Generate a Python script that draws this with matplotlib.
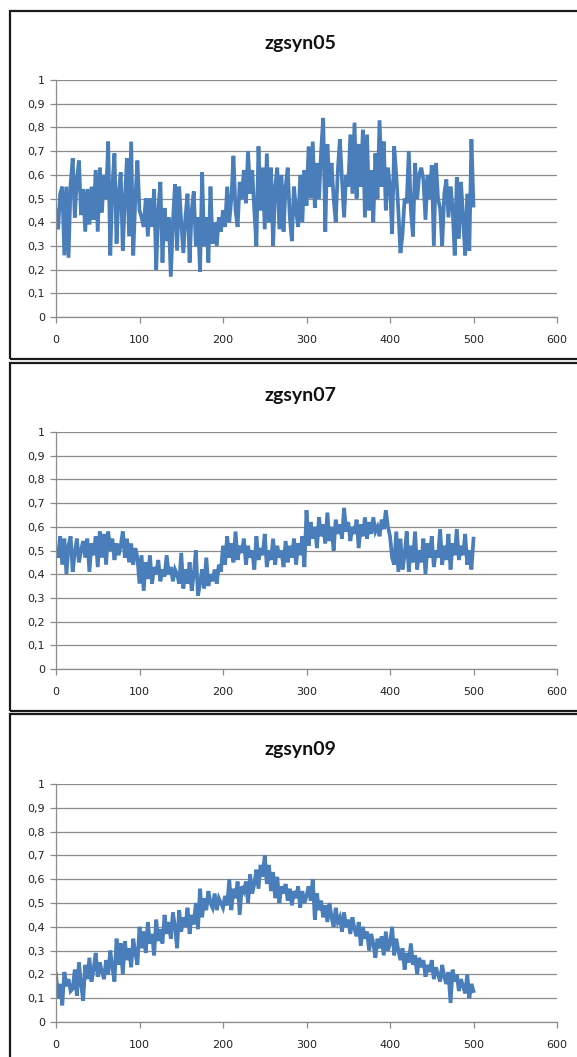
import numpy as np
import matplotlib.pyplot as plt
from matplotlib.patches import Rectangle

# ---- data (one value every 2.5 x units) ----
titles = ['zgsyn05', 'zgsyn07', 'zgsyn09']

zgsyn05 = [
    0.45, 0.37, 0.52, 0.55, 0.26, 0.55, 0.25, 0.56, 0.67, 0.42,
    0.58, 0.66, 0.43, 0.54, 0.36, 0.54, 0.39, 0.55, 0.41, 0.62,
    0.36, 0.63, 0.44, 0.60, 0.50, 0.74, 0.26, 0.55, 0.69, 0.31,
    0.52, 0.61, 0.28, 0.50, 0.67, 0.34, 0.74, 0.26, 0.50, 0.66,
    0.45, 0.42, 0.38, 0.50, 0.34, 0.50, 0.38, 0.54, 0.20, 0.45,
    0.57, 0.23, 0.46, 0.32, 0.42, 0.17, 0.40, 0.56, 0.28, 0.55,
    0.40, 0.27, 0.42, 0.52, 0.23, 0.45, 0.53, 0.30, 0.42, 0.19,
    0.61, 0.30, 0.42, 0.23, 0.55, 0.31, 0.40, 0.30, 0.42, 0.36,
    0.45, 0.38, 0.55, 0.40, 0.50, 0.68, 0.45, 0.38, 0.57, 0.50,
    0.62, 0.48, 0.70, 0.52, 0.62, 0.45, 0.30, 0.72, 0.45, 0.63,
    0.37, 0.69, 0.40, 0.63, 0.30, 0.55, 0.63, 0.37, 0.60, 0.36,
    0.55, 0.63, 0.42, 0.32, 0.55, 0.45, 0.38, 0.60, 0.40, 0.62,
    0.47, 0.72, 0.50, 0.74, 0.46, 0.65, 0.50, 0.70, 0.84, 0.36,
    0.73, 0.55, 0.65, 0.50, 0.40, 0.62, 0.75, 0.58, 0.42, 0.60,
    0.55, 0.77, 0.52, 0.82, 0.50, 0.73, 0.55, 0.79, 0.42, 0.77,
    0.45, 0.62, 0.40, 0.69, 0.50, 0.83, 0.55, 0.74, 0.45, 0.63,
    0.55, 0.35, 0.72, 0.60, 0.45, 0.27, 0.35, 0.50, 0.48, 0.70,
    0.45, 0.34, 0.65, 0.50, 0.60, 0.63, 0.58, 0.41, 0.60, 0.50,
    0.64, 0.30, 0.65, 0.50, 0.46, 0.30, 0.52, 0.58, 0.42, 0.55,
    0.46, 0.26, 0.59, 0.33, 0.57, 0.42, 0.26, 0.52, 0.28, 0.75,
    0.47,
]

zgsyn07 = [
    0.50, 0.47, 0.56, 0.44, 0.55, 0.40, 0.52, 0.56, 0.41, 0.49,
    0.55, 0.45, 0.50, 0.54, 0.47, 0.55, 0.41, 0.53, 0.48, 0.56,
    0.43, 0.58, 0.47, 0.57, 0.44, 0.58, 0.50, 0.55, 0.46, 0.53,
    0.48, 0.52, 0.58, 0.47, 0.55, 0.45, 0.53, 0.44, 0.51, 0.47,
    0.36, 0.48, 0.33, 0.45, 0.38, 0.48, 0.36, 0.43, 0.40, 0.46,
    0.37, 0.42, 0.39, 0.48, 0.40, 0.43, 0.37, 0.42, 0.40, 0.36,
    0.49, 0.34, 0.42, 0.36, 0.45, 0.33, 0.40, 0.50, 0.31, 0.36,
    0.42, 0.34, 0.47, 0.35, 0.40, 0.37, 0.42, 0.36, 0.44, 0.41,
    0.52, 0.44, 0.56, 0.47, 0.53, 0.45, 0.58, 0.46, 0.52, 0.49,
    0.55, 0.44, 0.52, 0.47, 0.50, 0.42, 0.56, 0.46, 0.51, 0.48,
    0.57, 0.43, 0.50, 0.46, 0.55, 0.44, 0.52, 0.47, 0.50, 0.43,
    0.54, 0.45, 0.52, 0.47, 0.55, 0.44, 0.53, 0.48, 0.56, 0.43,
    0.67, 0.52, 0.62, 0.55, 0.60, 0.51, 0.64, 0.56, 0.61, 0.53,
    0.66, 0.54, 0.60, 0.50, 0.63, 0.57, 0.61, 0.55, 0.68, 0.58,
    0.62, 0.54, 0.60, 0.57, 0.63, 0.51, 0.61, 0.56, 0.64, 0.55,
    0.62, 0.57, 0.64, 0.58, 0.60, 0.56, 0.63, 0.59, 0.67, 0.60,
    0.56, 0.47, 0.44, 0.58, 0.41, 0.55, 0.42, 0.48, 0.58, 0.41,
    0.52, 0.45, 0.58, 0.42, 0.50, 0.45, 0.55, 0.40, 0.53, 0.47,
    0.56, 0.43, 0.50, 0.47, 0.59, 0.44, 0.52, 0.46, 0.57, 0.42,
    0.53, 0.48, 0.59, 0.46, 0.52, 0.48, 0.57, 0.44, 0.50, 0.42,
    0.55,
]

zgsyn09 = [
    0.20, 0.10, 0.16, 0.07, 0.21, 0.15, 0.18, 0.13, 0.14, 0.22,
    0.11, 0.25, 0.16, 0.09, 0.24, 0.18, 0.27, 0.17, 0.22, 0.29,
    0.19, 0.25, 0.21, 0.18, 0.26, 0.20, 0.30, 0.23, 0.17, 0.35,
    0.24, 0.33, 0.20, 0.34, 0.26, 0.31, 0.23, 0.35, 0.29, 0.24,
    0.40, 0.31, 0.38, 0.29, 0.42, 0.33, 0.37, 0.28, 0.43, 0.34,
    0.39, 0.33, 0.45, 0.37, 0.42, 0.35, 0.46, 0.40, 0.31, 0.47,
    0.38, 0.44, 0.40, 0.48, 0.37, 0.45, 0.41, 0.50, 0.39, 0.56,
    0.44, 0.52, 0.47, 0.55, 0.50, 0.48, 0.54, 0.47, 0.52, 0.50,
    0.48, 0.53, 0.49, 0.60, 0.47, 0.56, 0.52, 0.59, 0.45, 0.57,
    0.55, 0.59, 0.50, 0.62, 0.54, 0.58, 0.64, 0.56, 0.66, 0.61,
    0.70, 0.58, 0.66, 0.55, 0.63, 0.52, 0.61, 0.50, 0.57, 0.54,
    0.58, 0.51, 0.56, 0.49, 0.55, 0.52, 0.57, 0.48, 0.55, 0.50,
    0.53, 0.57, 0.51, 0.60, 0.43, 0.54, 0.47, 0.51, 0.44, 0.49,
    0.42, 0.50, 0.44, 0.40, 0.48, 0.42, 0.44, 0.38, 0.46, 0.40,
    0.43, 0.37, 0.44, 0.39, 0.36, 0.42, 0.32, 0.40, 0.35, 0.38,
    0.30, 0.37, 0.33, 0.27, 0.35, 0.31, 0.36, 0.28, 0.38, 0.30,
    0.33, 0.40, 0.28, 0.35, 0.30, 0.26, 0.31, 0.22, 0.29, 0.25,
    0.33, 0.24, 0.28, 0.20, 0.27, 0.23, 0.26, 0.19, 0.24, 0.21,
    0.26, 0.18, 0.23, 0.20, 0.17, 0.24, 0.19, 0.16, 0.21, 0.08,
    0.22, 0.17, 0.20, 0.13, 0.18, 0.15, 0.12, 0.20, 0.10, 0.16,
    0.13,
]

series = [zgsyn05, zgsyn07, zgsyn09]

x_ticks = [0, 100, 200, 300, 400, 500, 600]
y_ticks = [0, 0.1, 0.2, 0.3, 0.4, 0.5, 0.6, 0.7, 0.8, 0.9, 1.0]
y_labels = ['0', '0,1', '0,2', '0,3', '0,4', '0,5', '0,6', '0,7', '0,8', '0,9', '1']

# ---- layout (pixel positions) ----
W, H = 577, 1057
fig = plt.figure(figsize=(W / 100, H / 100), dpi=100)

boxes = [(11, 359), (363, 711), (714, 1070)]   # frame top/bottom in px
axes_px = [(80, 317), (432, 669), (784, 1022)]  # y=1 and y=0 in px
title_px = [44, 395, 749]
line_color = '#4a7ebb'

for k in range(3):
    top, bot = boxes[k]
    fig.patches.append(Rectangle((10 / W, 1 - bot / H), 1.2, (bot - top) / H,
                                 transform=fig.transFigure, fill=False,
                                 edgecolor='#1a1a1a', lw=1.6, zorder=0))

    y1, y0 = axes_px[k]
    ax = fig.add_axes([56 / W, 1 - y0 / H, (557 - 56) / W, (y0 - y1) / H])
    xs = np.linspace(0, 500, len(series[k]))
    ax.plot(xs, series[k], color=line_color, lw=2.7, solid_joinstyle='miter')

    ax.set_xlim(0, 600)
    ax.set_ylim(0, 1)
    ax.set_xticks(x_ticks)
    ax.set_xticklabels([str(v) for v in x_ticks])
    ax.set_yticks(y_ticks)
    ax.set_yticklabels(y_labels)
    ax.yaxis.grid(True, color='#8c8c8c', lw=0.9)
    ax.set_axisbelow(True)
    for s in ['top', 'right']:
        ax.spines[s].set_visible(False)
    for s in ['left', 'bottom']:
        ax.spines[s].set_color('#8c8c8c')
        ax.spines[s].set_linewidth(0.9)
    ax.tick_params(axis='both', colors='#8c8c8c', length=4, width=0.9,
                   labelsize=8, labelcolor='#222222')
    ax.tick_params(axis='x', pad=9)
    ax.tick_params(axis='y', pad=4)

    fig.text(300 / W, 1 - title_px[k] / H, titles[k], ha='center', va='center',
             fontsize=14, fontweight='bold', family=['Lato', 'DejaVu Sans'],
             color='#111111')

fig.savefig('out.png', dpi=100)
